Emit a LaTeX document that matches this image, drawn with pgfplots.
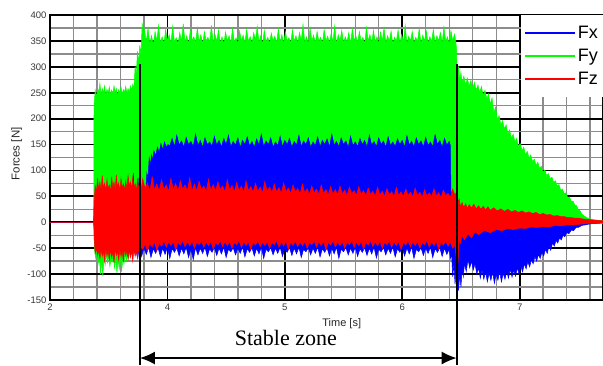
\documentclass[border=0pt]{standalone}
\usepackage{fontspec}
\setmainfont{Liberation Sans}
\newfontfamily\seriffont{Liberation Serif}
\usepackage{pgfplots}
\pgfplotsset{compat=1.18}
\usetikzlibrary{arrows.meta}
\definecolor{fx}{RGB}{0,0,255}
\definecolor{fy}{RGB}{0,255,0}
\definecolor{fz}{RGB}{255,0,0}
\definecolor{ticklab}{RGB}{55,55,55}
\begin{document}
\begin{tikzpicture}
\path[use as bounding box] (-50pt,-65pt) rectangle (553pt,300pt);
\begin{axis}[
  at={(0pt,0pt)}, anchor=south west,
  scale only axis, width=553pt, height=285pt,
  xmin=3, xmax=7.71, ymin=-150, ymax=400,
  xtick={3,4,5,6,7}, xticklabels={2,4,5,6,7},
  ytick={-150,-100,-50,0,50,100,150,200,250,300,350,400},
  minor xtick={3.2,3.4,3.6,3.8,4.2,4.4,4.6,4.8,5.2,5.4,5.6,5.8,6.2,6.4,6.6,6.8,7.2,7.4,7.6},
  minor ytick={-125,-75,-25,25,75,125,175,225,275,325,375},
  grid=both,
  major grid style={black, line width=1.8pt},
  minor grid style={black!45, line width=1.3pt},
  axis line style={black, line width=2pt},
  tick style={draw=none},
  tick label style={font=\fontsize{9.5}{10}\selectfont, text=ticklab},
  /pgf/number format/assume math mode=true,
  clip=false,
  legend style={at={(rel axis cs:1,1)}, anchor=north east, draw=none, fill=white,
    font=\fontsize{18}{20}\selectfont, inner xsep=3pt, inner ysep=9pt, row sep=5pt,
    cells={anchor=west}},
  legend image code/.code={\draw[#1] (0pt,0pt) -- (50pt,0pt);},
]
% Fy (green)
\addplot[forget plot, fill=fy, draw=fy, line width=0.5pt] coordinates {
(3.0,0) (3.372,0) (3.375,225) (3.385,255) (3.395,240) (3.405,262) (3.415,248) (3.425,268) (3.435,246) (3.445,258) (3.455,250) (3.465,263) (3.475,244) (3.485,257) (3.495,249) (3.505,261) (3.515,246) (3.525,255) (3.535,248) (3.545,263) (3.555,250) (3.565,258) (3.575,243) (3.585,256) (3.595,250) (3.605,261) (3.615,247) (3.625,256) (3.635,251) (3.645,262) (3.655,249) (3.665,258) (3.675,251) (3.685,263) (3.695,254) (3.705,266) (3.715,258) (3.725,300) (3.735,285) (3.745,330) (3.755,308) (3.765,342) (3.775,322) (3.785,385) (3.795,348) (3.805,372)
(3.82,348) (3.835,375) (3.85,345) (3.865,360) (3.88,342) (3.895,368) (3.91,350) (3.925,380) (3.94,346) (3.955,358) (3.97,344) (3.985,372) (4.00,350) (4.015,362) (4.03,345) (4.045,378) (4.06,348) (4.075,356) (4.09,343) (4.105,366) (4.12,349) (4.135,383) (4.15,347) (4.165,360) (4.18,344) (4.195,370) (4.21,351) (4.225,358) (4.24,346) (4.255,375) (4.27,348) (4.285,362) (4.30,344) (4.315,368) (4.33,350) (4.345,357) (4.36,347) (4.375,380) (4.39,345) (4.405,363) (4.42,349) (4.435,371) (4.45,346) (4.465,358) (4.48,343) (4.495,367) (4.51,350) (4.525,360) (4.54,346) (4.555,374) (4.57,348) (4.585,356) (4.60,344) (4.615,369) (4.63,350) (4.645,361) (4.66,346) (4.675,372) (4.69,349) (4.705,358) (4.72,345) (4.735,366) (4.75,351) (4.765,378) (4.78,347) (4.795,360) (4.81,343) (4.825,370) (4.84,349) (4.855,357) (4.87,345) (4.885,365) (4.90,350) (4.915,359) (4.93,346) (4.945,373) (4.96,348) (4.975,362) (4.99,344) (5.005,368) (5.02,350) (5.035,356) (5.05,346) (5.065,371) (5.08,349) (5.095,360) (5.11,345) (5.125,366) (5.14,351) (5.155,382) (5.17,347) (5.185,358) (5.20,344) (5.215,375) (5.23,350) (5.245,361) (5.26,346) (5.275,368) (5.29,349) (5.305,357) (5.32,345) (5.335,372) (5.35,350) (5.365,359) (5.38,346) (5.395,365) (5.41,348) (5.425,379) (5.44,344) (5.455,362) (5.47,350) (5.485,370) (5.50,346) (5.515,358) (5.53,348) (5.545,366) (5.56,345) (5.575,373) (5.59,350) (5.605,360) (5.62,346) (5.635,368) (5.65,349) (5.665,357) (5.68,344) (5.695,376) (5.71,350) (5.725,362) (5.74,346) (5.755,370) (5.77,348) (5.785,358) (5.80,345) (5.815,367) (5.83,350) (5.845,375) (5.86,346) (5.875,360) (5.89,349) (5.905,369) (5.92,344) (5.935,357) (5.95,350) (5.965,371) (5.98,346) (5.995,362) (6.01,348) (6.025,380) (6.04,345) (6.055,359) (6.07,350) (6.085,368) (6.10,346) (6.115,357) (6.13,349) (6.145,374) (6.16,344) (6.175,361) (6.19,350) (6.205,369) (6.22,346) (6.235,358) (6.25,348) (6.265,372) (6.28,345) (6.295,360) (6.31,350) (6.325,366) (6.34,346) (6.355,377) (6.37,349) (6.385,358) (6.40,344) (6.415,370) (6.43,350) (6.445,363)
(6.455,350) (6.462,336) (6.468,285) (6.48,300) (6.49,272) (6.50,290) (6.51,268) (6.525,282) (6.54,265) (6.555,278) (6.57,262) (6.585,274) (6.60,258) (6.615,270) (6.63,255) (6.645,265) (6.66,250) (6.675,262) (6.69,244) (6.705,255) (6.72,238) (6.735,248) (6.75,228) (6.765,240) (6.78,212) (6.795,222) (6.81,198) (6.825,206) (6.84,188) (6.855,196) (6.87,180) (6.885,188) (6.90,170) (6.915,178) (6.93,162) (6.945,170) (6.96,155) (6.975,162) (6.99,146) (7.005,152) (7.02,138) (7.035,145) (7.05,130) (7.065,137) (7.08,124) (7.095,130) (7.11,117) (7.125,122) (7.14,110) (7.155,116) (7.17,104) (7.185,108) (7.20,96) (7.215,101) (7.23,90) (7.245,94) (7.26,84) (7.275,87) (7.29,77) (7.305,80) (7.32,70) (7.335,73) (7.35,62) (7.365,64) (7.38,55) (7.395,57) (7.41,47) (7.425,49) (7.44,40) (7.455,41) (7.47,33) (7.485,32) (7.50,24) (7.515,22) (7.53,16) (7.55,12) (7.58,8) (7.62,5) (7.71,3)
(7.71,-2) (7.6,-3) (7.45,-5) (7.2,-8) (6.9,-10) (6.6,-14) (6.48,-20) (6.46,-42) (3.78,-42) (3.77,-45) (3.72,-50) (3.70,-60) (3.68,-55) (3.67,-70) (3.66,-58) (3.65,-74) (3.64,-60) (3.63,-80) (3.62,-70) (3.61,-96) (3.60,-68) (3.59,-90) (3.58,-72) (3.57,-98) (3.56,-70) (3.55,-88) (3.54,-64) (3.53,-76) (3.52,-70) (3.51,-85) (3.50,-66) (3.49,-78) (3.48,-62) (3.47,-82) (3.46,-68) (3.45,-104) (3.44,-72) (3.43,-100) (3.42,-65) (3.41,-80) (3.40,-60) (3.39,-70) (3.38,-55) (3.374,-20) (3.372,0)
} -- cycle;
% Fx (blue)
\addplot[forget plot, fill=fx, draw=fx, line width=0.5pt] coordinates {
(3.0,0) (3.374,0) (3.376,30) (3.40,40) (3.60,40) (3.675,45) (3.70,55) (3.71,95) (3.715,50) (3.74,60) (3.75,85) (3.755,55) (3.77,50) (3.80,70) (3.815,60) (3.825,95) (3.835,85) (3.845,125) (3.855,110) (3.865,130) (3.875,120) (3.885,138) (3.90,128) (3.915,145) (3.93,135) (3.945,152) (3.96,140) (3.975,155) (3.99,145) (4.005,150)
(4.02,147) (4.04,162) (4.06,146) (4.08,168) (4.10,149) (4.12,157) (4.14,145) (4.16,164) (4.18,150) (4.20,156) (4.22,146) (4.24,170) (4.26,148) (4.28,158) (4.30,145) (4.32,163) (4.34,150) (4.36,155) (4.38,147) (4.40,166) (4.42,149) (4.44,158) (4.46,145) (4.48,162) (4.50,150) (4.52,168) (4.54,146) (4.56,156) (4.58,149) (4.60,163) (4.62,145) (4.64,158) (4.66,150) (4.68,165) (4.70,147) (4.72,156) (4.74,145) (4.76,161) (4.78,149) (4.80,170) (4.82,146) (4.84,157) (4.86,150) (4.88,163) (4.90,145) (4.92,155) (4.94,148) (4.96,166) (4.98,146) (5.00,158) (5.02,150) (5.04,162) (5.06,145) (5.08,156) (5.10,149) (5.12,168) (5.14,146) (5.16,157) (5.18,150) (5.20,163) (5.22,145) (5.24,155) (5.26,148) (5.28,165) (5.30,146) (5.32,158) (5.34,150) (5.36,161) (5.38,145) (5.40,170) (5.42,149) (5.44,156) (5.46,146) (5.48,163) (5.50,150) (5.52,157) (5.54,145) (5.56,166) (5.58,148) (5.60,155) (5.62,146) (5.64,162) (5.66,150) (5.68,158) (5.70,145) (5.72,168) (5.74,149) (5.76,156) (5.78,146) (5.80,163) (5.82,150) (5.84,157) (5.86,145) (5.88,165) (5.90,148) (5.92,155) (5.94,146) (5.96,161) (5.98,150) (6.00,158) (6.02,145) (6.04,167) (6.06,149) (6.08,156) (6.10,146) (6.12,163) (6.14,150) (6.16,157) (6.18,145) (6.20,164) (6.22,148) (6.24,155) (6.26,146) (6.28,169) (6.30,150) (6.32,158) (6.34,145) (6.36,162) (6.38,149) (6.40,156) (6.41,148)
(6.415,60) (6.47,35) (6.55,28) (6.8,22) (7.0,15) (7.2,10) (7.4,5) (7.55,2) (7.71,0)
(7.71,-1) (7.65,-2) (7.6,-3) (7.56,-5) (7.53,-6) (7.50,-10) (7.48,-10) (7.46,-16) (7.44,-15) (7.42,-22) (7.40,-20) (7.385,-28) (7.37,-25) (7.355,-34) (7.34,-30) (7.325,-40) (7.31,-35) (7.295,-46) (7.28,-40) (7.265,-54) (7.25,-46) (7.235,-60) (7.22,-52) (7.205,-65) (7.19,-58) (7.175,-70) (7.16,-62) (7.145,-75) (7.13,-66) (7.115,-80) (7.10,-72) (7.085,-86) (7.07,-76) (7.055,-90) (7.04,-80) (7.025,-96) (7.01,-84) (6.995,-100) (6.98,-88) (6.965,-104) (6.95,-92) (6.935,-106) (6.92,-90) (6.905,-108) (6.89,-94) (6.875,-110) (6.86,-98) (6.845,-115) (6.83,-95) (6.815,-112) (6.80,-100) (6.785,-118) (6.77,-96) (6.755,-112) (6.74,-98) (6.725,-115) (6.71,-95) (6.695,-110) (6.68,-92) (6.665,-108) (6.65,-88) (6.635,-100) (6.62,-80) (6.605,-92) (6.59,-75) (6.575,-88) (6.56,-72) (6.545,-95) (6.53,-80) (6.52,-105) (6.51,-90) (6.50,-125) (6.49,-100) (6.48,-132) (6.472,-110) (6.465,-138) (6.458,-95) (6.45,-120) (6.44,-80) (6.43,-105) (6.42,-60) (6.41,-70) (6.40,-52)
(6.38,-62) (6.36,-50) (6.34,-66) (6.32,-49) (6.30,-58) (6.28,-51) (6.26,-68) (6.24,-48) (6.22,-60) (6.20,-50) (6.18,-64) (6.16,-49) (6.14,-57) (6.12,-52) (6.10,-70) (6.08,-48) (6.06,-61) (6.04,-50) (6.02,-65) (6.00,-49) (5.98,-58) (5.96,-51) (5.94,-67) (5.92,-48) (5.90,-60) (5.88,-50) (5.86,-63) (5.84,-49) (5.82,-57) (5.80,-52) (5.78,-69) (5.76,-48) (5.74,-61) (5.72,-50) (5.70,-64) (5.68,-49) (5.66,-58) (5.64,-51) (5.62,-66) (5.60,-48) (5.58,-60) (5.56,-50) (5.54,-63) (5.52,-49) (5.50,-57) (5.48,-52) (5.46,-70) (5.44,-48) (5.42,-61) (5.40,-50) (5.38,-65) (5.36,-49) (5.34,-58) (5.32,-51) (5.30,-67) (5.28,-48) (5.26,-60) (5.24,-50) (5.22,-63) (5.20,-49) (5.18,-57) (5.16,-52) (5.14,-68) (5.12,-48) (5.10,-61) (5.08,-50) (5.06,-64) (5.04,-49) (5.02,-58) (5.00,-51) (4.98,-66) (4.96,-48) (4.94,-60) (4.92,-50) (4.90,-63) (4.88,-49) (4.86,-57) (4.84,-52) (4.82,-70) (4.80,-48) (4.78,-61) (4.76,-50) (4.74,-65) (4.72,-49) (4.70,-58) (4.68,-51) (4.66,-67) (4.64,-48) (4.62,-60) (4.60,-50) (4.58,-63) (4.56,-49) (4.54,-57) (4.52,-52) (4.50,-68) (4.48,-48) (4.46,-61) (4.44,-50) (4.42,-64) (4.40,-49) (4.38,-58) (4.36,-51) (4.34,-66) (4.32,-48) (4.30,-60) (4.28,-50) (4.26,-63) (4.24,-49) (4.22,-72) (4.20,-52) (4.18,-68) (4.16,-48) (4.14,-61) (4.12,-50) (4.10,-65) (4.08,-49) (4.06,-58) (4.04,-51) (4.02,-70) (4.00,-48) (3.98,-62) (3.96,-50) (3.94,-66) (3.92,-49) (3.90,-60) (3.88,-51) (3.86,-68) (3.84,-48) (3.82,-62) (3.80,-50) (3.78,-66) (3.77,-52) (3.76,-70) (3.75,-50) (3.74,-62) (3.73,-45) (3.72,-58) (3.71,-44) (3.69,-40) (3.40,-40) (3.385,-20) (3.376,-15) (3.374,0)
} -- cycle;
% Fz (red)
\addplot[forget plot, fill=fz, draw=fz, line width=0.5pt] coordinates {
(3.0,0) (3.372,0) (3.376,40) (3.385,70) (3.395,58) (3.405,85) (3.415,62) (3.425,78) (3.435,60) (3.445,90) (3.455,65) (3.465,75) (3.475,60) (3.485,82) (3.495,64) (3.505,72) (3.515,58) (3.525,88) (3.535,66) (3.545,78) (3.555,62) (3.565,92) (3.575,68) (3.585,76) (3.595,60) (3.605,84) (3.615,66) (3.625,74) (3.635,62) (3.645,80) (3.655,65) (3.665,90) (3.675,70) (3.685,78) (3.695,64) (3.705,86) (3.715,68) (3.725,75) (3.735,60) (3.745,82) (3.755,66) (3.765,78) (3.775,62)
(3.79,84) (3.81,64) (3.83,76) (3.85,60) (3.87,88) (3.89,63) (3.91,74) (3.93,61) (3.95,82) (3.97,64) (3.99,72) (4.01,60) (4.03,85) (4.05,63) (4.07,75) (4.09,61) (4.11,80) (4.13,64) (4.15,72) (4.17,60) (4.19,86) (4.21,62) (4.23,74) (4.25,61) (4.27,79) (4.29,63) (4.31,70) (4.33,60) (4.35,83) (4.37,62) (4.39,73) (4.41,60) (4.43,78) (4.45,63) (4.47,70) (4.49,59) (4.51,82) (4.53,62) (4.55,71) (4.57,59) (4.59,77) (4.61,61) (4.63,70) (4.65,58) (4.67,80) (4.69,61) (4.71,69) (4.73,58) (4.75,75) (4.77,60) (4.79,68) (4.81,57) (4.83,79) (4.85,60) (4.87,68) (4.89,57) (4.91,74) (4.93,59) (4.95,67) (4.97,56) (4.99,76) (5.01,59) (5.03,66) (5.05,56) (5.07,72) (5.09,58) (5.11,65) (5.13,55) (5.15,74) (5.17,57) (5.19,65) (5.21,54) (5.23,70) (5.25,57) (5.27,64) (5.29,54) (5.31,72) (5.33,56) (5.35,63) (5.37,53) (5.39,69) (5.41,55) (5.43,63) (5.45,53) (5.47,70) (5.49,55) (5.51,62) (5.53,52) (5.55,68) (5.57,55) (5.59,61) (5.61,52) (5.63,69) (5.65,54) (5.67,61) (5.69,51) (5.71,66) (5.73,54) (5.75,60) (5.77,51) (5.79,68) (5.81,53) (5.83,60) (5.85,50) (5.87,65) (5.89,53) (5.91,59) (5.93,50) (5.95,67) (5.97,52) (5.99,59) (6.01,50) (6.03,64) (6.05,52) (6.07,58) (6.09,49) (6.11,66) (6.13,52) (6.15,58) (6.17,49) (6.19,63) (6.21,51) (6.23,57) (6.25,49) (6.27,65) (6.29,51) (6.31,57) (6.33,48) (6.35,62) (6.37,51) (6.39,56) (6.41,48) (6.43,64) (6.45,52) (6.465,60)
(6.475,38) (6.485,45) (6.495,30) (6.51,38) (6.525,28) (6.54,36) (6.555,27) (6.57,34) (6.59,28) (6.61,35) (6.63,26) (6.65,32) (6.67,25) (6.69,31) (6.71,24) (6.73,30) (6.75,23) (6.78,28) (6.81,22) (6.84,26) (6.87,21) (6.90,25) (6.93,20) (6.96,23) (6.99,19) (7.02,22) (7.05,18) (7.08,20) (7.11,17) (7.14,19) (7.17,15) (7.20,17) (7.23,14) (7.26,15) (7.29,12) (7.32,13) (7.35,11) (7.38,11) (7.41,9) (7.44,9) (7.47,8) (7.50,8) (7.55,6) (7.60,5) (7.65,4) (7.71,3)
(7.71,-1) (7.65,-2) (7.60,-2) (7.55,-3) (7.50,-4) (7.45,-5) (7.40,-5) (7.35,-7) (7.30,-6) (7.25,-9) (7.20,-8) (7.15,-10) (7.10,-9) (7.05,-12) (7.00,-11) (6.95,-14) (6.90,-12) (6.85,-16) (6.80,-14) (6.75,-20) (6.70,-16) (6.65,-24) (6.62,-18) (6.59,-30) (6.56,-22) (6.53,-34) (6.51,-26) (6.495,-40) (6.485,-30) (6.475,-79) (6.468,-40) (6.46,-70) (6.45,-44)
(6.43,-50) (6.41,-38) (6.39,-46) (6.37,-36) (6.35,-44) (6.33,-39) (6.31,-52) (6.29,-37) (6.27,-45) (6.25,-38) (6.23,-48) (6.21,-36) (6.19,-43) (6.17,-39) (6.15,-50) (6.13,-37) (6.11,-45) (6.09,-38) (6.07,-47) (6.05,-36) (6.03,-44) (6.01,-39) (5.99,-53) (5.97,-37) (5.95,-45) (5.93,-38) (5.91,-48) (5.89,-36) (5.87,-43) (5.85,-39) (5.83,-50) (5.81,-37) (5.79,-45) (5.77,-38) (5.75,-47) (5.73,-36) (5.71,-44) (5.69,-39) (5.67,-52) (5.65,-37) (5.63,-45) (5.61,-38) (5.59,-48) (5.57,-36) (5.55,-43) (5.53,-39) (5.51,-50) (5.49,-37) (5.47,-45) (5.45,-38) (5.43,-47) (5.41,-36) (5.39,-44) (5.37,-39) (5.35,-53) (5.33,-37) (5.31,-45) (5.29,-38) (5.27,-48) (5.25,-36) (5.23,-43) (5.21,-39) (5.19,-50) (5.17,-37) (5.15,-45) (5.13,-38) (5.11,-47) (5.09,-36) (5.07,-44) (5.05,-39) (5.03,-52) (5.01,-37) (4.99,-45) (4.97,-38) (4.95,-48) (4.93,-36) (4.91,-43) (4.89,-39) (4.87,-50) (4.85,-37) (4.83,-45) (4.81,-38) (4.79,-47) (4.77,-36) (4.75,-44) (4.73,-39) (4.71,-53) (4.69,-37) (4.67,-45) (4.65,-38) (4.63,-48) (4.61,-36) (4.59,-43) (4.57,-39) (4.55,-50) (4.53,-37) (4.51,-45) (4.49,-38) (4.47,-47) (4.45,-36) (4.43,-44) (4.41,-39) (4.39,-52) (4.37,-37) (4.35,-45) (4.33,-38) (4.31,-48) (4.29,-36) (4.27,-43) (4.25,-39) (4.23,-50) (4.21,-37) (4.19,-45) (4.17,-38) (4.15,-47) (4.13,-36) (4.11,-44) (4.09,-39) (4.07,-53) (4.05,-37) (4.03,-45) (4.01,-38) (3.99,-48) (3.97,-36) (3.95,-46) (3.93,-40) (3.91,-55) (3.89,-38) (3.87,-48) (3.85,-40) (3.83,-56) (3.81,-42) (3.79,-52)
(3.775,-48) (3.765,-62) (3.755,-50) (3.745,-70) (3.735,-55) (3.725,-66) (3.715,-52) (3.705,-75) (3.695,-56) (3.685,-68) (3.675,-52) (3.665,-72) (3.655,-55) (3.645,-64) (3.635,-50) (3.625,-76) (3.615,-56) (3.605,-66) (3.595,-52) (3.585,-73) (3.575,-55) (3.565,-64) (3.555,-50) (3.545,-78) (3.535,-56) (3.525,-68) (3.515,-52) (3.505,-72) (3.495,-55) (3.485,-65) (3.475,-50) (3.465,-75) (3.455,-55) (3.445,-66) (3.435,-52) (3.425,-70) (3.415,-54) (3.405,-64) (3.395,-50) (3.385,-60) (3.376,-30) (3.374,0)
} -- cycle;
\addlegendimage{fx, line width=1.6pt}
\addlegendentry{Fx}
\addlegendimage{fy, line width=1.5pt}
\addlegendentry{Fy}
\addlegendimage{fz, line width=1.3pt}
\addlegendentry{Fz}
% annotations
\draw[black, line width=2pt] (axis cs:3.766,305) -- (axis cs:3.766,-276);
\draw[black, line width=2pt] (axis cs:6.464,305) -- (axis cs:6.464,-276);
\draw[{Latex[length=15pt,width=13pt]}-{Latex[length=15pt,width=13pt]}, line width=1.6pt]
  (axis cs:3.766,-262) -- (axis cs:6.464,-262);
\node[font=\seriffont\fontsize{22}{24}\selectfont, anchor=base] at (axis cs:5.009,-237) {Stable zone};
\node[font=\fontsize{11}{13}\selectfont, anchor=base, text=black!85] at (axis cs:5.485,-202) {Time [s]};
\node[font=\fontsize{11.5}{13}\selectfont, rotate=90, text=black!85] at (axis cs:2.715,132) {Forces [N]};
\end{axis}
\end{tikzpicture}
\end{document}
